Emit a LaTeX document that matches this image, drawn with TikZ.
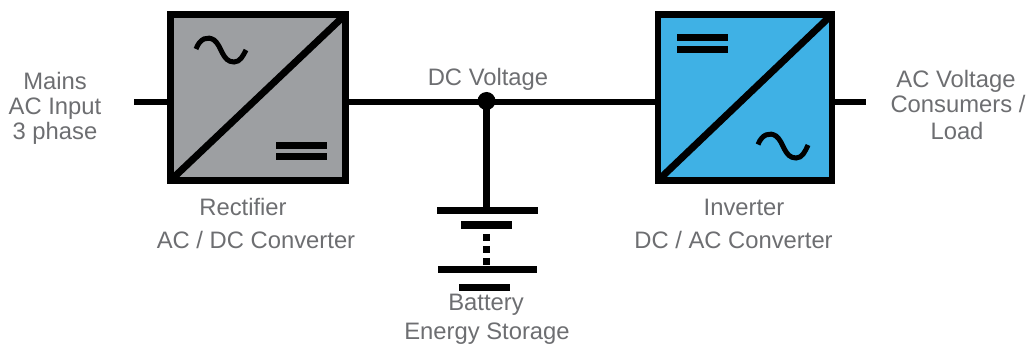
\documentclass[tikz,border=0pt]{standalone}
\usepackage{fontspec}
\setmainfont{Liberation Sans}
\definecolor{txtgrey}{HTML}{6D6E71}
\definecolor{rectgrey}{HTML}{9D9FA2}
\definecolor{invblue}{HTML}{3FB1E5}
\tikzset{
  wire/.style={line width=6pt,black},
  conv/.style={draw=black,line width=6.5pt,minimum width=175pt,minimum height=166pt,inner sep=0pt,outer sep=0pt},
  diag/.style={line width=7pt,black},
  wave/.style={line width=5pt,black},
  bar/.style={fill=black,inner sep=0pt,outer sep=0pt,minimum width=51pt,minimum height=7pt},
  plate/.style={fill=black,inner sep=0pt,outer sep=0pt,minimum height=7.5pt},
  label/.style={text=txtgrey,anchor=base,inner sep=0pt,font=\fontsize{23.8}{28}\selectfont},
}
\begin{document}
\begin{tikzpicture}[x=1pt,y=-1pt]
\useasboundingbox (0,0) rectangle (1027,344);
\node[conv,fill=rectgrey] (rect) at (258,97.5) {};
\node[conv,fill=invblue,minimum width=174pt] (inv) at (745,97.5) {};
\coordinate (inL) at (134,101.7);
\coordinate (outR) at (866,101.7);
\node[circle,fill=black,minimum size=18pt,inner sep=0pt] (junction) at (486.5,101) {};
\draw[wire] (inL) -- (rect.west |- inL);
\draw[wire] (rect.east |- inL) -- (inv.west |- inL);
\draw[wire] (inv.east |- outR) -- (outR);
% converter diagonals
\draw[diag] (rect.south west) -- (rect.north east);
\draw[diag] (inv.south west) -- (inv.north east);
% DC bars
\node[bar] (rectbarA) at (301.5,145.5) {};
\node[bar] (rectbarB) at (301.5,156.5) {};
\node[bar] (invbarA) at (702,38) {};
\node[bar] (invbarB) at (702,49.5) {};
% AC waves
\draw[wave] (196,49) .. controls (200,38) and (208,36) .. (214,40)
  .. controls (222,46) and (222,62) .. (234,62) .. controls (240,62) and (243,56) .. (246,50);
\draw[wave] (758,144.5) .. controls (762,134) and (770,132) .. (776,136)
  .. controls (784,142) and (784,158) .. (796,158) .. controls (802,158) and (805,152) .. (808,145);
% battery
\node[plate,minimum width=100.5pt] (plateA) at (487.3,210.4) {};
\node[plate,minimum width=51pt] (plateB) at (486.5,225) {};
\node[plate,minimum width=99pt] (plateC) at (487.5,269.5) {};
\node[plate,minimum width=51pt] (plateD) at (484.5,287.5) {};
\draw[line width=7pt] (junction.center) -- (junction.center |- plateA.north);
\draw[line width=7pt,dash pattern=on 7pt off 5pt] (junction.center |- 0,234) -- (junction.center |- plateC.north);
% labels
\node[label] (mains) at (55,89.7) {Mains};
\node[label] (acin) at (55,114.7) {AC Input};
\node[label] (ph) at (55,139.7) {3 phase};
\node[label] (dcv) at (488,85.7) {DC Voltage};
\node[label] (acv) at (956,87.7) {AC Voltage};
\node[label] (cons) at (958,112.7) {Consumers /};
\node[label] (load) at (957,139.7) {Load};
\node[label] (rl) at (243,215.7) {Rectifier};
\node[label] (rc) at (256,248.7) {AC / DC Converter};
\node[label] (il) at (744,215.7) {Inverter};
\node[label] (ic) at (733.5,248.7) {DC / AC Converter};
\node[label] (bl) at (486,310.7) {Battery};
\node[label] (bs) at (487,339.7) {Energy Storage};
\end{tikzpicture}
\end{document}
